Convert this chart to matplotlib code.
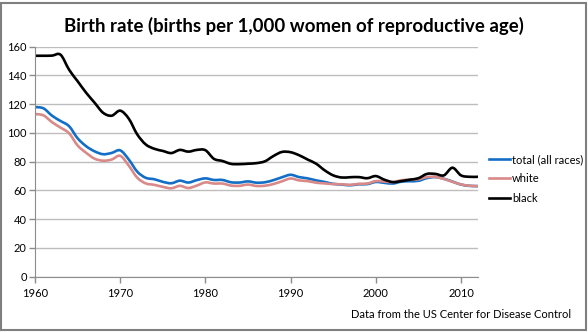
import matplotlib
matplotlib.use("Agg")
import matplotlib.pyplot as plt
from matplotlib.patches import Rectangle, PathPatch
from matplotlib.path import Path
from matplotlib.lines import Line2D

# general fertility rate, births per 1,000 women aged 15-44
years = list(range(1960, 2013))

total = [118.0, 117.1, 112.0, 108.3, 104.7, 96.3, 90.8, 87.2, 85.2, 86.1,
         87.9, 81.6, 73.1, 68.8, 67.8, 66.0, 65.0, 66.8, 65.5, 67.2,
         68.4, 67.3, 67.3, 65.7, 65.5, 66.3, 65.4, 65.7, 67.2, 69.2,
         70.9, 69.3, 68.4, 67.0, 65.9, 64.6, 64.1, 63.6, 64.3, 64.4,
         65.9, 65.3, 64.8, 66.1, 66.4, 66.7, 68.6, 69.3, 68.1, 66.2,
         64.1, 63.2, 63.0]

white = [113.2, 112.2, 107.5, 103.7, 99.8, 91.3, 86.2, 82.1, 80.7, 81.5,
         84.1, 77.3, 68.9, 64.9, 63.9, 62.5, 61.5, 63.2, 61.7, 63.4,
         65.6, 64.8, 64.8, 63.4, 63.2, 64.1, 63.1, 63.3, 64.5, 66.4,
         68.3, 67.0, 66.5, 65.4, 64.9, 64.4, 64.3, 63.9, 64.6, 64.8,
         66.5, 66.2, 65.8, 67.1, 67.5, 67.8, 69.3, 69.4, 68.0, 66.0,
         64.2, 63.3, 63.0]

black = [153.7, 153.7, 153.8, 154.4, 144.0, 136.0, 128.0, 121.0, 114.0, 112.0,
         115.5, 110.0, 99.0, 92.0, 89.0, 87.5, 86.0, 88.2, 87.0, 88.2,
         88.0, 82.0, 80.5, 78.5, 78.3, 78.6, 79.0, 80.3, 84.0, 86.8,
         86.6, 84.5, 81.5, 78.6, 74.0, 70.5, 69.0, 69.2, 69.3, 68.5,
         70.0, 67.5, 65.8, 66.5, 67.5, 68.5, 71.5, 71.5, 70.5, 75.8,
         70.5, 69.5, 69.5]

series_labels = ["total (all races)", "white", "black"]
series_colors = ["#136fc6", "#d98a88", "#000000"]

y_ticks = list(range(0, 161, 20))
x_ticks = list(range(1960, 2011, 10))


def smooth_path(xs, ys):
    """Bezier path through the points, like a spreadsheet 'smoothed line'."""
    pts = list(zip(xs, ys))
    n = len(pts)
    verts = [pts[0]]
    codes = [Path.MOVETO]
    for i in range(n - 1):
        p0 = pts[max(i - 1, 0)]
        p1 = pts[i]
        p2 = pts[i + 1]
        p3 = pts[min(i + 2, n - 1)]
        c1 = (p1[0] + (p2[0] - p0[0]) / 6, p1[1] + (p2[1] - p0[1]) / 6)
        c2 = (p2[0] - (p3[0] - p1[0]) / 6, p2[1] - (p3[1] - p1[1]) / 6)
        verts += [c1, c2, p2]
        codes += [Path.CURVE4] * 3
    return Path(verts, codes)


plt.rcParams['font.family'] = ['Lato', 'DejaVu Sans']

W, H = 588, 332
fig = plt.figure(figsize=(W / 100, H / 100), dpi=100)

# chart border
fig.patches.append(Rectangle((1.5 / W, 2.5 / H), (W - 4) / W, (H - 5) / H,
                             transform=fig.transFigure, fill=False,
                             edgecolor="#7f7f7f", linewidth=1.5))

left, right, top, bottom = 35, 478, 46.7, 276.7
ax = fig.add_axes([left / W, 1 - bottom / H, (right - left) / W, (bottom - top) / H])

handles = []
for vals, lab, col in zip([total, white, black], series_labels, series_colors):
    ax.add_patch(PathPatch(smooth_path(years, vals), facecolor="none",
                           edgecolor=col, lw=1.9, joinstyle="round",
                           capstyle="round"))
    handles.append(Line2D([], [], color=col, lw=1.9, label=lab))

ax.set_xlim(1960, 2012)
ax.set_ylim(0, 160)
ax.set_yticks(y_ticks)
ax.set_xticks(x_ticks)
ax.grid(axis="y", color="#bdbdbd", lw=1)
ax.set_axisbelow(True)
for s in ["top", "right"]:
    ax.spines[s].set_visible(False)
ax.spines["left"].set_color("#8c8c8c")
ax.spines["bottom"].set_color("#8c8c8c")
ax.tick_params(axis="both", direction="out", length=4, width=1, color="#8c8c8c",
               labelsize=8, labelcolor="black", pad=2)
ax.tick_params(axis="x", pad=4)

fig.text(294 / W, 1 - 26 / H, "Birth rate (births per 1,000 women of reproductive age)",
         ha="center", va="center", fontsize=13.4, fontweight="bold")
fig.text(571 / W, 1 - 315 / H, "Data from the US Center for Disease Control",
         ha="right", va="center", fontsize=8)

fig.legend(handles=handles, loc="upper left", bbox_to_anchor=(489 / W, 1 - 154 / H),
           frameon=False, fontsize=8, handlelength=1.9, handletextpad=0.15,
           labelspacing=0.75, borderaxespad=0, borderpad=0)

fig.savefig("out.png", dpi=100)
